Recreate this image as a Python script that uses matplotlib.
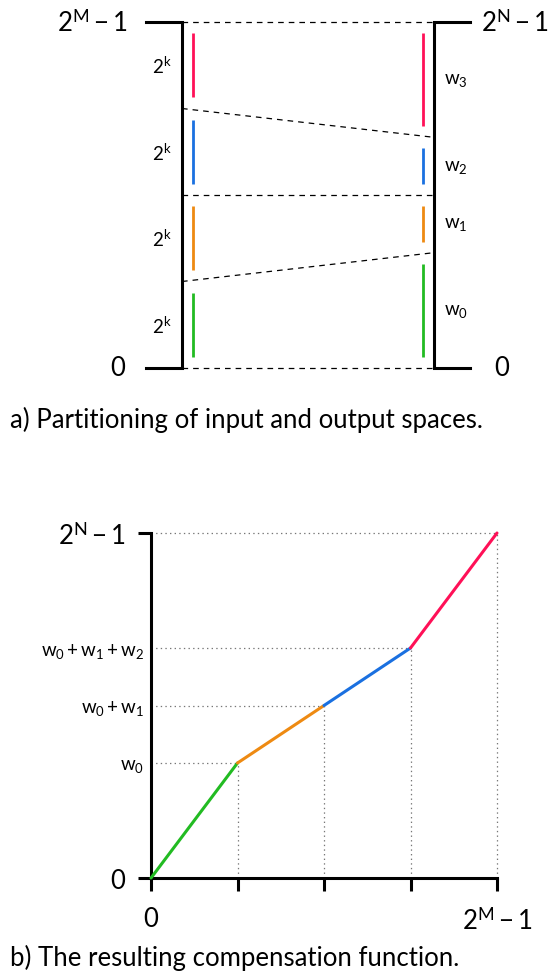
import numpy as np
import matplotlib
matplotlib.use("Agg")
import matplotlib.pyplot as plt

plt.rcParams['font.family'] = ['Lato', 'DejaVu Sans']
plt.rcParams['mathtext.fontset'] = 'custom'
plt.rcParams['mathtext.rm'] = 'Lato'
plt.rcParams['mathtext.it'] = 'Lato:italic'
plt.rcParams['mathtext.bf'] = 'Lato:bold'

# partition data
in_widths = [1, 1, 1, 1]          # 2^k each
out_widths = [2, 1, 1, 2]         # w0..w3 (relative)
seg_colors = ['#22bb22', '#ee8a12', '#1a70e0', '#ff1057']
in_labels = [r'$2^{\mathrm{k}}$'] * 4
out_labels = [r'$\mathrm{w}_0$', r'$\mathrm{w}_1$', r'$\mathrm{w}_2$', r'$\mathrm{w}_3$']
top_in = r'$2^{\mathrm{M}} - 1$'
top_out = r'$2^{\mathrm{N}} - 1$'
ytick_labels = ['0', r'$\mathrm{w}_0$', r'$\mathrm{w}_0 + \mathrm{w}_1$',
                r'$\mathrm{w}_0 + \mathrm{w}_1 + \mathrm{w}_2$', top_out]
xtick_labels = ['0', '', '', '', top_in]

in_b = np.concatenate([[0], np.cumsum(in_widths)]) / sum(in_widths)
out_b = np.concatenate([[0], np.cumsum(out_widths)]) / sum(out_widths)

W, H = 552, 978
fig = plt.figure(figsize=(W / 100, H / 100), dpi=100)

# ---- a) partitioning ----
ax = fig.add_axes([182 / W, 1 - 369 / H, 252 / W, 346 / H])
ax.set_xlim(0, 1)
ax.set_ylim(0, 1)
ax.axis('off')
lw = 2.2
ext = 0.143
for x, sgn in [(0, -1), (1, 1)]:
    ax.plot([x, x], [0, 1], color='black', lw=lw, clip_on=False, solid_capstyle='butt')
    for y in [0, 1]:
        ax.plot([x, x + sgn * ext], [y, y], color='black', lw=lw, clip_on=False,
                solid_capstyle='projecting')
for yl, yr in zip(in_b, out_b):
    ax.plot([0, 1], [yl, yr], color='black', lw=0.9, dashes=(4.5, 4), clip_on=False)

inset = 0.032
for i in range(4):
    ax.plot([0.044, 0.044], [in_b[i] + inset, in_b[i + 1] - inset], color=seg_colors[i],
            lw=2.0, solid_capstyle='butt')
    ax.plot([0.956, 0.956], [out_b[i] + inset, out_b[i + 1] - inset], color=seg_colors[i],
            lw=2.0, solid_capstyle='butt')
    ax.text(-0.04, (in_b[i] + in_b[i + 1]) / 2, in_labels[i], ha='right', va='center', fontsize=13.5)
    ax.text(1.04, (out_b[i] + out_b[i + 1]) / 2, out_labels[i], ha='left', va='center', fontsize=13.5)

ax.text(-0.215, 1, top_in, ha='right', va='center', fontsize=18.5)
ax.text(-0.225, 0, '0', ha='right', va='center', fontsize=18.5)
ax.text(1.455, 1, top_out, ha='right', va='center', fontsize=18.5)
ax.text(1.238, 0, '0', ha='left', va='center', fontsize=18.5)

fig.text(10 / W, 1 - 420 / H, 'a) Partitioning of input and output spaces.', ha='left',
         va='center', fontsize=18.5)

# ---- b) compensation function ----
bx = fig.add_axes([151 / W, 1 - 879 / H, 346 / W, 345 / H])
bx.set_xlim(0, 1)
bx.set_ylim(0, 1)
for s in ['top', 'right']:
    bx.spines[s].set_visible(False)
for s in ['left', 'bottom']:
    bx.spines[s].set_linewidth(lw)

for i in range(4):
    bx.plot(in_b[i:i + 2], out_b[i:i + 2], color=seg_colors[i], lw=2.2,
            solid_capstyle='round', clip_on=False, zorder=3)
for i in range(1, 5):
    bx.plot([0, in_b[i]], [out_b[i], out_b[i]], color='#777777', lw=0.9,
            dashes=(1.1, 2.6), zorder=1, clip_on=False)
    bx.plot([in_b[i], in_b[i]], [0, out_b[i]], color='#777777', lw=0.9,
            dashes=(1.1, 2.6), zorder=1, clip_on=False)

bx.set_xticks(in_b)
bx.set_xticklabels(xtick_labels)
bx.set_yticks([out_b[0], out_b[4]])
bx.set_yticklabels([ytick_labels[0], ytick_labels[4]])
bx.set_yticks(out_b[1:4], minor=True)
bx.set_yticklabels(ytick_labels[1:4], minor=True)
bx.tick_params(axis='x', which='major', length=9.5, width=lw, labelsize=18.5, pad=11)
bx.tick_params(axis='y', which='major', length=9.5, width=lw, labelsize=18.5, pad=9)
bx.tick_params(axis='y', which='minor', length=0, labelsize=13.5, pad=5)

fig.text(10 / W, 1 - 958 / H, 'b) The resulting compensation function.', ha='left',
         va='center', fontsize=18.5)

fig.savefig('out.png', dpi=100)
